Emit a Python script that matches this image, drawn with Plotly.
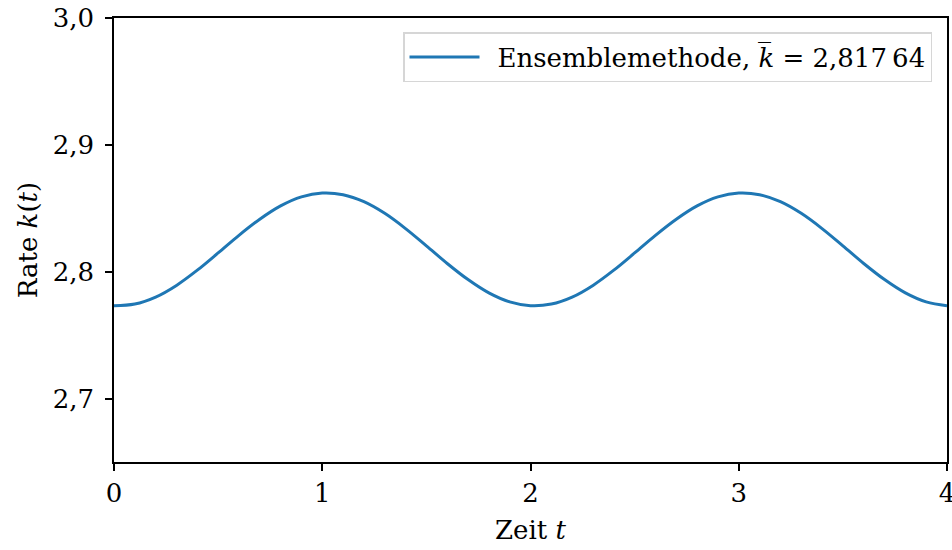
import plotly.graph_objects as go

# Zeitpunkte und Rate k(t) der Ensemblemethode
zeit = [0.0, 0.1, 0.2, 0.3, 0.4, 0.5, 0.6, 0.7, 0.8, 0.9, 1.0,
        1.1, 1.2, 1.3, 1.4, 1.5, 1.6, 1.7, 1.8, 1.9, 2.0,
        2.1, 2.2, 2.3, 2.4, 2.5, 2.6, 2.7, 2.8, 2.9, 3.0,
        3.1, 3.2, 3.3, 3.4, 3.5, 3.6, 3.7, 3.8, 3.9, 4.0]
rate = [2.7732, 2.7745, 2.7800, 2.7892, 2.8012, 2.8148, 2.8287, 2.8414, 2.8519, 2.8590, 2.8620,
        2.8607, 2.8552, 2.8460, 2.8340, 2.8204, 2.8065, 2.7938, 2.7833, 2.7762, 2.7732,
        2.7745, 2.7800, 2.7892, 2.8012, 2.8148, 2.8287, 2.8414, 2.8519, 2.8590, 2.8620,
        2.8607, 2.8552, 2.8460, 2.8340, 2.8204, 2.8065, 2.7938, 2.7833, 2.7762, 2.7732]
mittelwert_text = "2,817\u200964"

x_ticks = [0, 1, 2, 3, 4]
x_labels = ["0", "1", "2", "3", "4"]
y_ticks = [2.7, 2.8, 2.9, 3.0]
y_labels = ["2,7", "2,8", "2,9", "3,0"]

FONT = "DejaVu Serif, Liberation Serif, serif"
FS = 26

fig = go.Figure()
fig.add_trace(go.Scatter(
    x=zeit, y=rate, mode="lines",
    line=dict(color="#1f77b4", width=3, shape="spline"),
    name=f"\u2002Ensemblemethode, <i>k\u0305</i> = {mittelwert_text}",
))

axis_common = dict(
    showline=True, linecolor="black", linewidth=1.5, mirror=True,
    ticks="outside", ticklen=7, tickwidth=1.5, tickcolor="black",
    showgrid=False, zeroline=False, automargin=False,
    tickfont=dict(family=FONT, size=FS, color="black"),
    ticklabeloverflow="allow",
)

fig.update_layout(
    width=952, height=550,
    margin=dict(l=114, r=5, t=18, b=88),
    paper_bgcolor="white", plot_bgcolor="white",
    font=dict(family=FONT, size=FS, color="black"),
    showlegend=True,
    legend=dict(
        x=0.982, y=0.968, xanchor="right", yanchor="top",
        bordercolor="#d6d6d6", borderwidth=1.5, bgcolor="rgba(255,255,255,0.8)",
        font=dict(family=FONT, size=FS, color="black"),
        itemwidth=70,
    ),
    xaxis=dict(
        range=[0, 4], tickvals=x_ticks, ticktext=x_labels,
        title=dict(text="Zeit <i>t</i>", font=dict(family=FONT, size=FS), standoff=14),
        **axis_common,
    ),
    yaxis=dict(
        range=[2.65, 3.0], tickvals=y_ticks, ticktext=y_labels,
        ticklabelstandoff=6,
        title=dict(text="Rate <i>k</i>(<i>t</i>)", font=dict(family=FONT, size=FS), standoff=8),
        **axis_common,
    ),
)

fig.write_html("out.html")
